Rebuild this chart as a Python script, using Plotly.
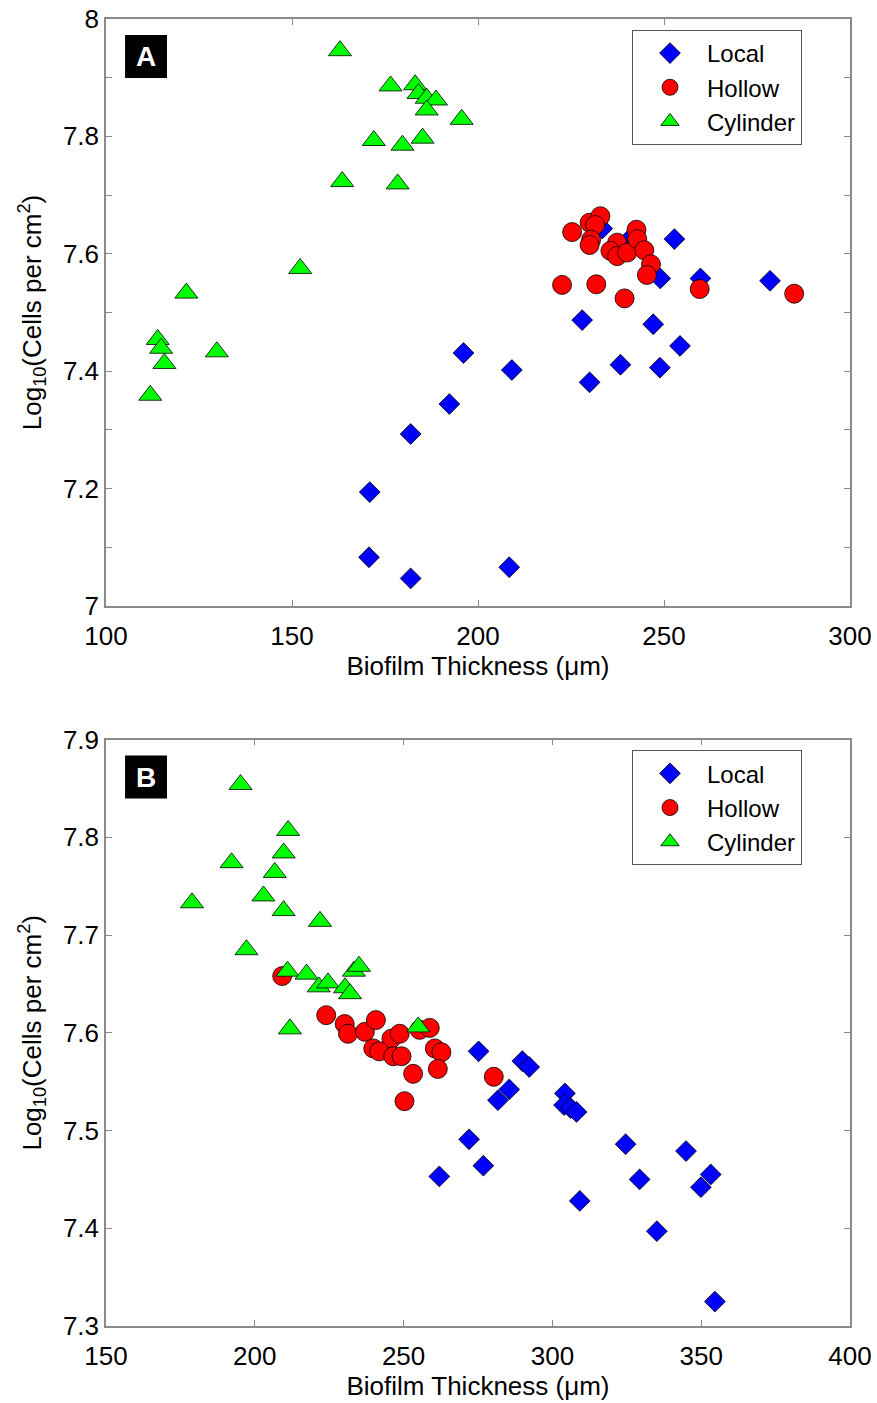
import plotly.graph_objects as go

# ---- Panel A: biofilm thickness (um) vs log10 cell density ----
a_local_x = [196.1, 192.3, 181.9, 170.9, 170.7, 181.9, 208.4, 209.1, 228.0, 230.0,
             238.3, 247.1, 248.9, 254.3, 252.8, 249.0, 259.8, 278.5, 233.4, 240.1]
a_local_y = [7.431, 7.344, 7.293, 7.194, 7.083, 7.047, 7.066, 7.402, 7.487, 7.381,
             7.411, 7.480, 7.406, 7.443, 7.625, 7.558, 7.558, 7.554, 7.643, 7.621]

a_hollow_x = [225.3, 230.0, 232.9, 231.5, 230.4, 230.0, 237.4, 235.6, 237.4, 240.1,
              242.6, 242.8, 244.7, 246.5, 245.4, 222.6, 231.8, 239.4, 259.6, 285.0]
a_hollow_y = [7.637, 7.653, 7.664, 7.649, 7.624, 7.615, 7.619, 7.605, 7.596, 7.602,
              7.641, 7.625, 7.606, 7.582, 7.564, 7.547, 7.548, 7.524, 7.540, 7.532]

a_cyl_x = [162.9, 176.5, 183.1, 184.0, 186.2, 188.7, 186.2, 195.6, 172.0, 179.7,
           185.1, 163.5, 178.4, 152.2, 121.6, 113.9, 114.8, 115.7, 129.8, 111.9]
a_cyl_y = [7.946, 7.886, 7.888, 7.873, 7.865, 7.862, 7.845, 7.829, 7.793, 7.785,
           7.797, 7.723, 7.719, 7.575, 7.533, 7.454, 7.439, 7.413, 7.433, 7.359]

# ---- Panel B ----
b_local_x = [275.2, 289.9, 292.2, 285.5, 281.7, 304.2, 303.9, 306.1, 308.1, 272.0,
             276.8, 262.0, 309.2, 324.6, 329.3, 344.9, 353.2, 349.9, 335.1, 354.6]
b_local_y = [7.581, 7.571, 7.565, 7.542, 7.531, 7.538, 7.526, 7.523, 7.519, 7.491,
             7.464, 7.453, 7.428, 7.486, 7.450, 7.479, 7.455, 7.442, 7.397, 7.325]

b_hollow_x = [209.2, 224.0, 230.2, 231.3, 237.0, 240.7, 245.9, 248.7, 239.8, 241.8,
              246.5, 249.3, 253.2, 255.4, 258.8, 260.5, 262.7, 261.5, 250.3, 280.3]
b_hollow_y = [7.658, 7.618, 7.609, 7.599, 7.601, 7.613, 7.594, 7.599, 7.584, 7.581,
              7.576, 7.576, 7.558, 7.603, 7.605, 7.584, 7.580, 7.563, 7.530, 7.555]

b_cyl_x = [195.2, 211.2, 192.2, 209.7, 206.7, 178.9, 202.9, 209.7, 221.9, 197.2,
           211.0, 217.4, 221.5, 224.6, 233.3, 235.0, 230.3, 232.0, 211.8, 254.9]
b_cyl_y = [7.854, 7.807, 7.774, 7.784, 7.764, 7.733, 7.740, 7.725, 7.714, 7.685,
           7.663, 7.660, 7.647, 7.651, 7.663, 7.668, 7.646, 7.640, 7.604, 7.606]

series_names = ["Local", "Hollow", "Cylinder"]

# tick positions / labels
a_xticks = [100, 150, 200, 250, 300]
a_yticks = [7.0, 7.1, 7.2, 7.3, 7.4, 7.5, 7.6, 7.7, 7.8, 7.9, 8.0]
a_ylabels = ["7", "", "7.2", "", "7.4", "", "7.6", "", "7.8", "", "8"]
b_xticks = [150, 200, 250, 300, 350, 400]
b_yticks = [7.3, 7.4, 7.5, 7.6, 7.7, 7.8, 7.9]
b_ylabels = ["7.3", "7.4", "7.5", "7.6", "7.7", "7.8", "7.9"]

FONT = "Liberation Sans, Arial, sans-serif"
FS = 26
LEG_FS = 24
AXIS_GRAY = "#8a8a8a"

styles = {
    "Local": dict(symbol="diamond", size=16, color="#0000ff"),
    "Hollow": dict(symbol="circle", size=19, color="#ff0000"),
    "Cylinder": dict(symbol="triangle-up", size=20, color="#00ff00"),
}

fig = go.Figure()

def add_panel(xs, ys, xaxis, yaxis, legend):
    for name, x, y in zip(series_names, xs, ys):
        st = styles[name]
        fig.add_trace(go.Scatter(
            x=x, y=y, mode="markers", name=name,
            xaxis=xaxis, yaxis=yaxis, legend=legend,
            marker=dict(symbol=st["symbol"], size=st["size"], color=st["color"],
                        line=dict(color="black", width=0.8)),
        ))

add_panel([a_local_x, a_hollow_x, a_cyl_x], [a_local_y, a_hollow_y, a_cyl_y],
          "x", "y", "legend")
add_panel([b_local_x, b_hollow_x, b_cyl_x], [b_local_y, b_hollow_y, b_cyl_y],
          "x2", "y2", "legend2")

ytitle = "Log<sub>10</sub>(Cells per cm<sup>2</sup>)"
xtitle = "Biofilm Thickness (\u03bcm)"

common = dict(showgrid=False, zeroline=False, showline=True, linecolor=AXIS_GRAY,
              linewidth=1.5, mirror="ticks", ticks="inside", ticklen=6,
              tickcolor=AXIS_GRAY, tickwidth=1, automargin=False,
              tickfont=dict(family=FONT, size=FS, color="black"))
xcommon = dict(ticklabelstandoff=6,
               title=dict(text=xtitle, font=dict(size=FS), standoff=2), **common)
ycommon = dict(title=dict(text=ytitle, font=dict(size=FS), standoff=14), **common)

legend_style = dict(xanchor="left", yanchor="top", bgcolor="white",
                    bordercolor="#555555", borderwidth=1,
                    font=dict(family=FONT, size=LEG_FS), itemwidth=64,
                    entrywidth=150, tracegroupgap=0)

fig.update_layout(
    width=877, height=1403,
    margin=dict(l=106, r=27, t=19, b=77),
    paper_bgcolor="white", plot_bgcolor="white",
    font=dict(family=FONT, size=FS, color="black"),
    showlegend=True,
    xaxis=dict(domain=[0, 1], anchor="y", range=[100, 300], tickvals=a_xticks, **xcommon),
    yaxis=dict(domain=[0.5509, 1], anchor="x", range=[7.0, 8.0], tickvals=a_yticks,
               ticktext=a_ylabels, **ycommon),
    xaxis2=dict(domain=[0, 1], anchor="y2", range=[150, 400], tickvals=b_xticks, **xcommon),
    yaxis2=dict(domain=[0, 0.4487], anchor="x2", range=[7.3, 7.9], tickvals=b_yticks,
                ticktext=b_ylabels, **ycommon),
    legend=dict(x=0.707, y=0.9916, **legend_style),
    legend2=dict(x=0.707, y=0.4405, **legend_style),
)

# panel letters: white bold text on a black square
for xd, yd, letter in [("x domain", "y domain", "A"), ("x2 domain", "y2 domain", "B")]:
    fig.add_shape(type="rect", xref=xd, yref=yd, x0=0.0256, x1=0.082,
                  y0=0.8995, y1=0.9727, fillcolor="black", line=dict(width=0))
    fig.add_annotation(xref=xd, yref=yd, x=0.0538, y=0.9361, text="<b>%s</b>" % letter,
                       showarrow=False, font=dict(family=FONT, size=28, color="white"),
                       xanchor="center", yanchor="middle")

fig.write_html("out.html")
